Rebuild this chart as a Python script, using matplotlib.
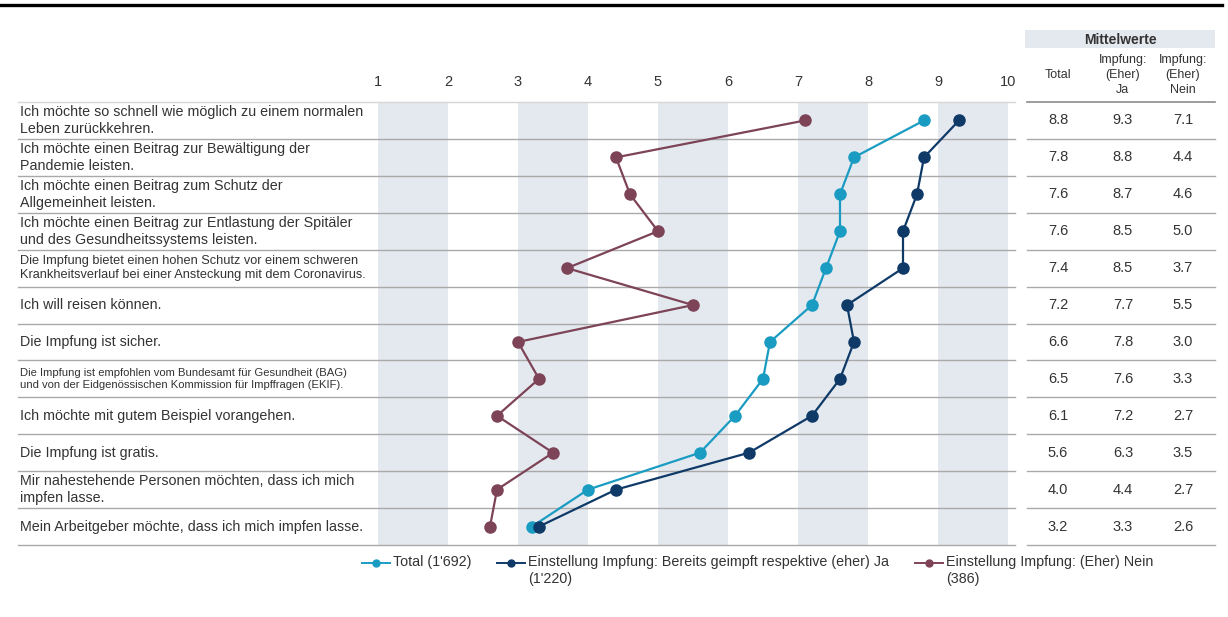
import matplotlib
matplotlib.use("Agg")
import matplotlib.pyplot as plt
import matplotlib.transforms as mtransforms
from matplotlib.lines import Line2D
from matplotlib.patches import Rectangle
import numpy as np

plt.rcParams["font.family"] = ["Liberation Sans", "DejaVu Sans"]

W, H = 1228, 617

statements = [
    "Ich möchte so schnell wie möglich zu einem normalen\nLeben zurückkehren.",
    "Ich möchte einen Beitrag zur Bewältigung der\nPandemie leisten.",
    "Ich möchte einen Beitrag zum Schutz der\nAllgemeinheit leisten.",
    "Ich möchte einen Beitrag zur Entlastung der Spitäler\nund des Gesundheitssystems leisten.",
    "Die Impfung bietet einen hohen Schutz vor einem schweren\nKrankheitsverlauf bei einer Ansteckung mit dem Coronavirus.",
    "Ich will reisen können.",
    "Die Impfung ist sicher.",
    "Die Impfung ist empfohlen vom Bundesamt für Gesundheit (BAG)\nund von der Eidgenössischen Kommission für Impffragen (EKIF).",
    "Ich möchte mit gutem Beispiel vorangehen.",
    "Die Impfung ist gratis.",
    "Mir nahestehende Personen möchten, dass ich mich\nimpfen lasse.",
    "Mein Arbeitgeber möchte, dass ich mich impfen lasse.",
]
# long statements are set in a smaller font
label_sizes = [10.3, 10.3, 10.3, 10.3, 9.2, 10.3, 10.3, 8.1, 10.3, 10.3, 10.3, 10.3]

total = [8.8, 7.8, 7.6, 7.6, 7.4, 7.2, 6.6, 6.5, 6.1, 5.6, 4.0, 3.2]
ja = [9.3, 8.8, 8.7, 8.5, 8.5, 7.7, 7.8, 7.6, 7.2, 6.3, 4.4, 3.3]
nein = [7.1, 4.4, 4.6, 5.0, 3.7, 5.5, 3.0, 3.3, 2.7, 3.5, 2.7, 2.6]

series_names = [
    "Total (1'692)",
    "Einstellung Impfung: Bereits geimpft respektive (eher) Ja\n(1'220)",
    "Einstellung Impfung: (Eher) Nein\n(386)",
]
series_colors = ["#1a9cc2", "#0f3a68", "#7d4356"]
table_headers = ["Total", "Impfung:\n(Eher)\nJa", "Impfung:\n(Eher)\nNein"]

text_col = "#333333"
grid_col = "#a9a9a9"
band_col = "#e4e9ef"


def fx(px):
    return px / W


def fy(py):
    return 1 - py / H


fig = plt.figure(figsize=(W / 100, H / 100), dpi=100)

# main dot chart
ax = fig.add_axes([fx(378), fy(545), fx(630), 443 / H])
ax.set_xlim(1, 10)
n = len(statements)
rows = np.arange(n)
ax.set_ylim(n - 0.5, -0.5)

for k in range(1, 10, 2):
    ax.axvspan(k, k + 1, color=band_col, lw=0, zorder=0)

blend = mtransforms.blended_transform_factory(ax.transAxes, ax.transData)
for b in np.arange(-0.5, n):
    ax.plot([(18 - 378) / 630, (1015 - 378) / 630], [b, b], transform=blend,
            clip_on=False, color=grid_col if b > -0.5 else "#d6d6d6", lw=1, zorder=1)

for vals, col in zip([total, ja, nein], series_colors):
    ax.plot(vals, rows, "-o", color=col, lw=1.6, ms=8, zorder=3, clip_on=False)

for r, (lab, sz) in enumerate(zip(statements, label_sizes)):
    ax.text((20 - 378) / 630, r, lab, transform=blend, ha="left", va="center",
            fontsize=sz, color=text_col, linespacing=1.25)

ax.xaxis.tick_top()
ax.set_xticks(range(1, 11))
ax.tick_params(axis="x", length=0, pad=9, labelsize=10.5, colors=text_col)
ax.set_yticks([])
for s in ax.spines.values():
    s.set_visible(False)

# table of means
tab = fig.add_axes([fx(1027), fy(545), fx(188), 443 / H])
tab.set_xlim(0, 1)
tab.set_ylim(n - 0.5, -0.5)
tab.axis("off")
col_x = [0.165, 0.51, 0.83]
for b in np.arange(-0.5, n):
    tab.axhline(b, color="#8c8c8c" if b == -0.5 else grid_col,
                lw=1.2 if b == -0.5 else 1, clip_on=False)
for vals, cx in zip([total, ja, nein], col_x):
    for r, v in enumerate(vals):
        tab.text(cx, r, f"{v:.1f}", ha="center", va="center", fontsize=10.5, color=text_col)

fig.patches.append(Rectangle((fx(1025), fy(48)), fx(190), 18 / H, transform=fig.transFigure,
                             color=band_col, lw=0))
fig.text(fx(1120), fy(39.5), "Mittelwerte", ha="center", va="center", fontsize=10,
         fontweight="bold", color=text_col)
for hdr, cx in zip(table_headers, col_x):
    fig.text(fx(1027 + cx * 188), fy(75), hdr, ha="center", va="center", fontsize=9,
             color=text_col, linespacing=1.3)

# rule at the top
fig.add_artist(Line2D([0, fx(1222)], [fy(5), fy(5)], color="black", lw=2.4))

# legend
leg_x = [362, 497, 915]
for name, col, x0 in zip(series_names, series_colors, leg_x):
    fig.add_artist(Line2D([fx(x0), fx(x0 + 14), fx(x0 + 28)], [fy(563)] * 3, color=col,
                          lw=1.4, marker="o", ms=5, markevery=[1]))
    fig.text(fx(x0 + 31), fy(555), name, ha="left", va="top", fontsize=10.3,
             color=text_col, linespacing=1.25)

fig.savefig("out.png", dpi=100)
